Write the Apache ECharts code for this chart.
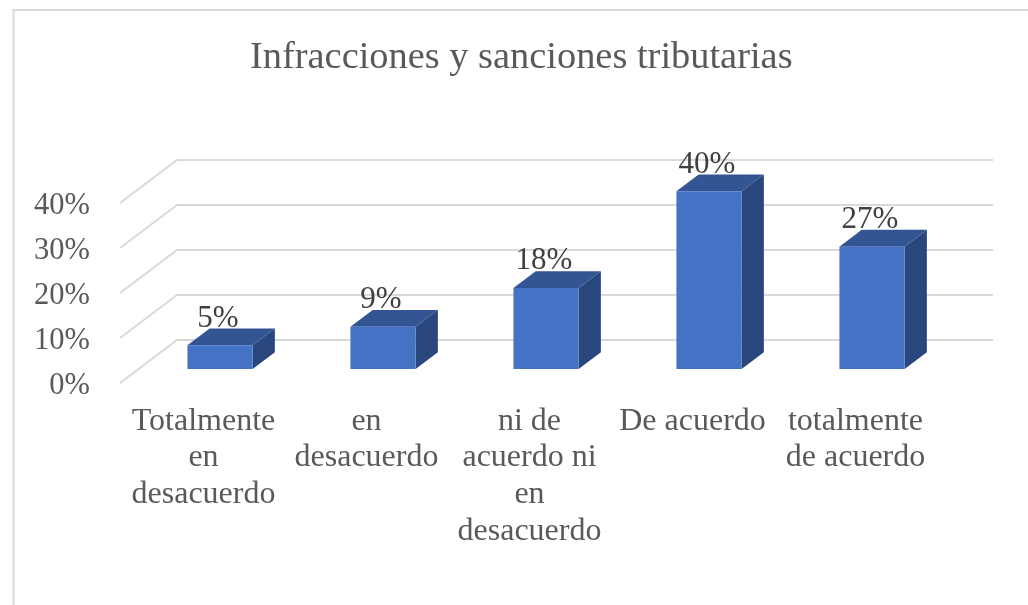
<!DOCTYPE html>
<html>
<head>
<meta charset="utf-8">
<title>Infracciones y sanciones tributarias</title>
<script src="https://cdn.jsdelivr.net/npm/echarts@6/dist/echarts.min.js"></script>
<style>
  html, body { margin: 0; padding: 0; background: #fff; }
  #chart { width: 1028px; height: 605px; }
</style>
</head>
<body>
<div id="chart"></div>
<script>
const titleText = 'Infracciones y sanciones tributarias'
const categories = [
  'Totalmente\nen\ndesacuerdo',
  'en\ndesacuerdo',
  'ni de\nacuerdo ni\nen\ndesacuerdo',
  'De acuerdo',
  'totalmente\nde acuerdo'
]
const values = [5.3, 9.4, 18, 39.5, 27.2]
const valueLabels = ['5%', '9%', '18%', '40%', '27%']
const yTicks = [0, 10, 20, 30, 40]

const FONT = '"Liberation Serif", serif'
// fake 3d: how far the back wall sits from the front of the floor, in px
const DEPTH_X = 57
const DEPTH_Y = 43
const BAR_RATIO = 0.4
const BAR_OFFSET = 0.325 // where the bar front sits inside the depth
const BAR_DEPTH = 0.39

function renderGridLine(params, api) {
  const p = api.coord([0, api.value(1)])
  const sys = params.coordSys
  const x0 = sys.x
  const backX = x0 + DEPTH_X
  const backY = p[1] - DEPTH_Y
  return {
    type: 'polyline',
    shape: { points: [[x0, p[1]], [backX, backY], [x0 + sys.width + DEPTH_X + 1, backY]] },
    style: { fill: null, stroke: '#d9d9d9', lineWidth: 2 }
  }
}

function renderBar(params, api) {
  const i = api.value(0)
  const top = api.coord([i, api.value(1)])
  const base = api.coord([i, 0])
  const w = api.size([1, 0])[0] * BAR_RATIO
  const l = top[0] - w / 2 + DEPTH_X * BAR_OFFSET
  const r = l + w
  const t = top[1] - DEPTH_Y * BAR_OFFSET
  const b = base[1] - DEPTH_Y * BAR_OFFSET
  const dx = DEPTH_X * BAR_DEPTH
  const dy = DEPTH_Y * BAR_DEPTH
  return {
    type: 'group',
    children: [
      {
        type: 'polygon',
        shape: { points: [[l, t], [r, t], [r + dx, t - dy], [l + dx, t - dy]] },
        style: { fill: '#335593' }
      },
      {
        type: 'polygon',
        shape: { points: [[r, t], [r + dx, t - dy], [r + dx, b - dy], [r, b]] },
        style: { fill: '#29477d' }
      },
      {
        type: 'rect',
        shape: { x: l, y: t, width: w, height: b - t },
        style: { fill: '#4472c4' }
      },
      {
        type: 'text',
        style: {
          x: (l + r) / 2 - 2,
          y: t - dy - 10,
          text: valueLabels[i],
          fill: '#404040',
          font: '31px ' + FONT,
          align: 'center',
          verticalAlign: 'middle'
        }
      }
    ]
  }
}

const myChart = echarts.init(document.getElementById('chart'))
myChart.setOption({
  animation: false,
  backgroundColor: '#ffffff',
  textStyle: { fontFamily: FONT },
  title: {
    text: titleText,
    left: 245,
    top: 34,
    textStyle: { fontFamily: FONT, fontSize: 38.4, fontWeight: 'normal', color: '#595959' }
  },
  graphic: [
    {
      type: 'polyline',
      shape: { points: [[13.5, 605], [13.5, 10], [1028, 10]] },
      style: { fill: null, stroke: '#d9d9d9', lineWidth: 2 }
    }
  ],
  grid: { left: 120, right: 93, top: 203, bottom: 222 },
  xAxis: {
    type: 'category',
    data: categories,
    axisLine: { show: false },
    axisTick: { show: false },
    axisLabel: {
      interval: 0,
      margin: 20,
      padding: [0, 0, 0, 4],
      fontFamily: FONT,
      fontSize: 32,
      lineHeight: 36.7,
      color: '#595959'
    }
  },
  yAxis: {
    type: 'value',
    min: 0,
    max: 40,
    interval: 10,
    axisLine: { show: false },
    axisTick: { show: false },
    splitLine: { show: false },
    axisLabel: {
      margin: 30,
      formatter: '{v|{value}%}',
      rich: {
        v: {
          padding: [6, 0, 0, 0],
          fontFamily: FONT,
          fontSize: 30.5,
          color: '#595959'
        }
      }
    }
  },
  series: [
    {
      type: 'custom',
      renderItem: renderGridLine,
      clip: false,
      silent: true,
      z: 1,
      data: yTicks.map(t => [0, t])
    },
    {
      type: 'custom',
      renderItem: renderBar,
      clip: false,
      z: 2,
      data: values.map((v, i) => [i, v])
    }
  ]
})
</script>
</body>
</html>
